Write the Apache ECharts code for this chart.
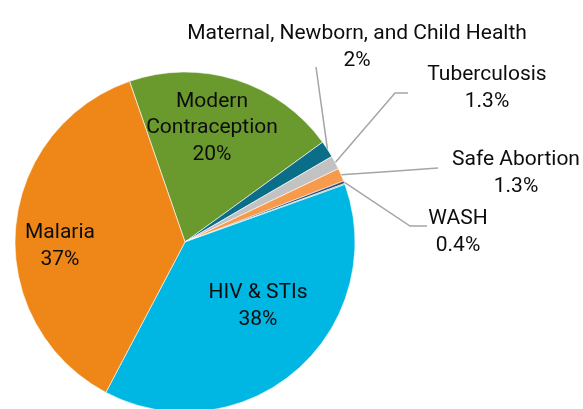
<!DOCTYPE html>
<html><head><meta charset="utf-8">
<script src="https://cdn.jsdelivr.net/npm/echarts@6/dist/echarts.min.js"></script>
<style>html,body{margin:0;padding:0;background:#fff}#c{width:583px;height:409px}</style>
</head><body><div id="c"></div>
<script>
const categories = ['Modern Contraception','Maternal, Newborn, and Child Health','Tuberculosis','Safe Abortion','WASH','Other','HIV & STIs','Malaria'];
const labelNames = ['Modern\nContraception','Maternal, Newborn, and Child Health','Tuberculosis','Safe Abortion','WASH','','HIV & STIs','Malaria'];
const values = [20.3, 1.6, 1.3, 1.25, 0.25, 0.1, 38.2, 37.0];
const shareLabels = ['20%','2%','1.3%','1.3%','0.4%','','38%','37%'];
const colors = ['#6A9A2E','#0B6E89','#C2C2C2','#F79A4B','#2E4C7E','#5E9A2E','#00B6E2','#EE8718'];

const CX = 185, CY = 242, R = 170, START = -19.05; // start, degrees clockwise from 12 o'clock
// label centers and leader-line shapes (layout only)
const labelPos = [[212,128],[357,47],[487,88],[516,173],[458,232],null,[258,306],[60,246]];
const leader = {
  1: [[316,67]],
  2: [[395,93],[408,93]],
  3: [[438,168]],
  4: [[410,226],[427,226]]
};
const total = values.reduce((a,b)=>a+b,0);
function edgePoint(i){
  let cum = 0; for (let k=0;k<i;k++) cum += values[k];
  const a = (START + 360*(cum + values[i]/2)/total) * Math.PI/180;
  return [CX + R*Math.sin(a), CY - R*Math.cos(a)];
}

const data = categories.map((n,i)=>{
  const d = {name:n, value:values[i], itemStyle:{color:colors[i]}};
  if (!shareLabels[i]) { d.label = {show:false}; d.labelLine = {show:false}; }
  else if (!leader[i]) { d.labelLine = {show:false}; }
  return d;
});

const chart = echarts.init(document.getElementById('c'), null, {renderer:'canvas'});
chart.setOption({
  animation:false,
  series:[{
    type:'pie',
    center:[CX, CY],
    radius:R,
    startAngle: 90 - START,
    clockwise:true,
    avoidLabelOverlap:false,
    data:data,
    itemStyle:{borderColor:'#ffffff', borderWidth:0.6},
    label:{
      show:true, position:'outside',
      formatter:(p)=>labelNames[p.dataIndex] + '\n' + shareLabels[p.dataIndex],
      fontFamily:'Roboto', fontSize:21, lineHeight:26.5, color:'#0d0d0d', align:'center'
    },
    labelLine:{show:true, smooth:false, lineStyle:{color:'#A5A5A5', width:1.5}},
    labelLayout:function(p){
      const i = p.dataIndex;
      const pos = labelPos[i];
      if (!pos) return {};
      const out = {x:pos[0], y:pos[1], align:'center', verticalAlign:'middle'};
      if (leader[i]) {
        const e = edgePoint(i);
        const L = leader[i];
        if (L.length === 1) {
          out.labelLinePoints = [e, [(e[0]+L[0][0])/2,(e[1]+L[0][1])/2], L[0]];
        } else {
          out.labelLinePoints = [e, L[0], L[1]];
        }
      }
      return out;
    }
  }]
});
</script></body></html>
